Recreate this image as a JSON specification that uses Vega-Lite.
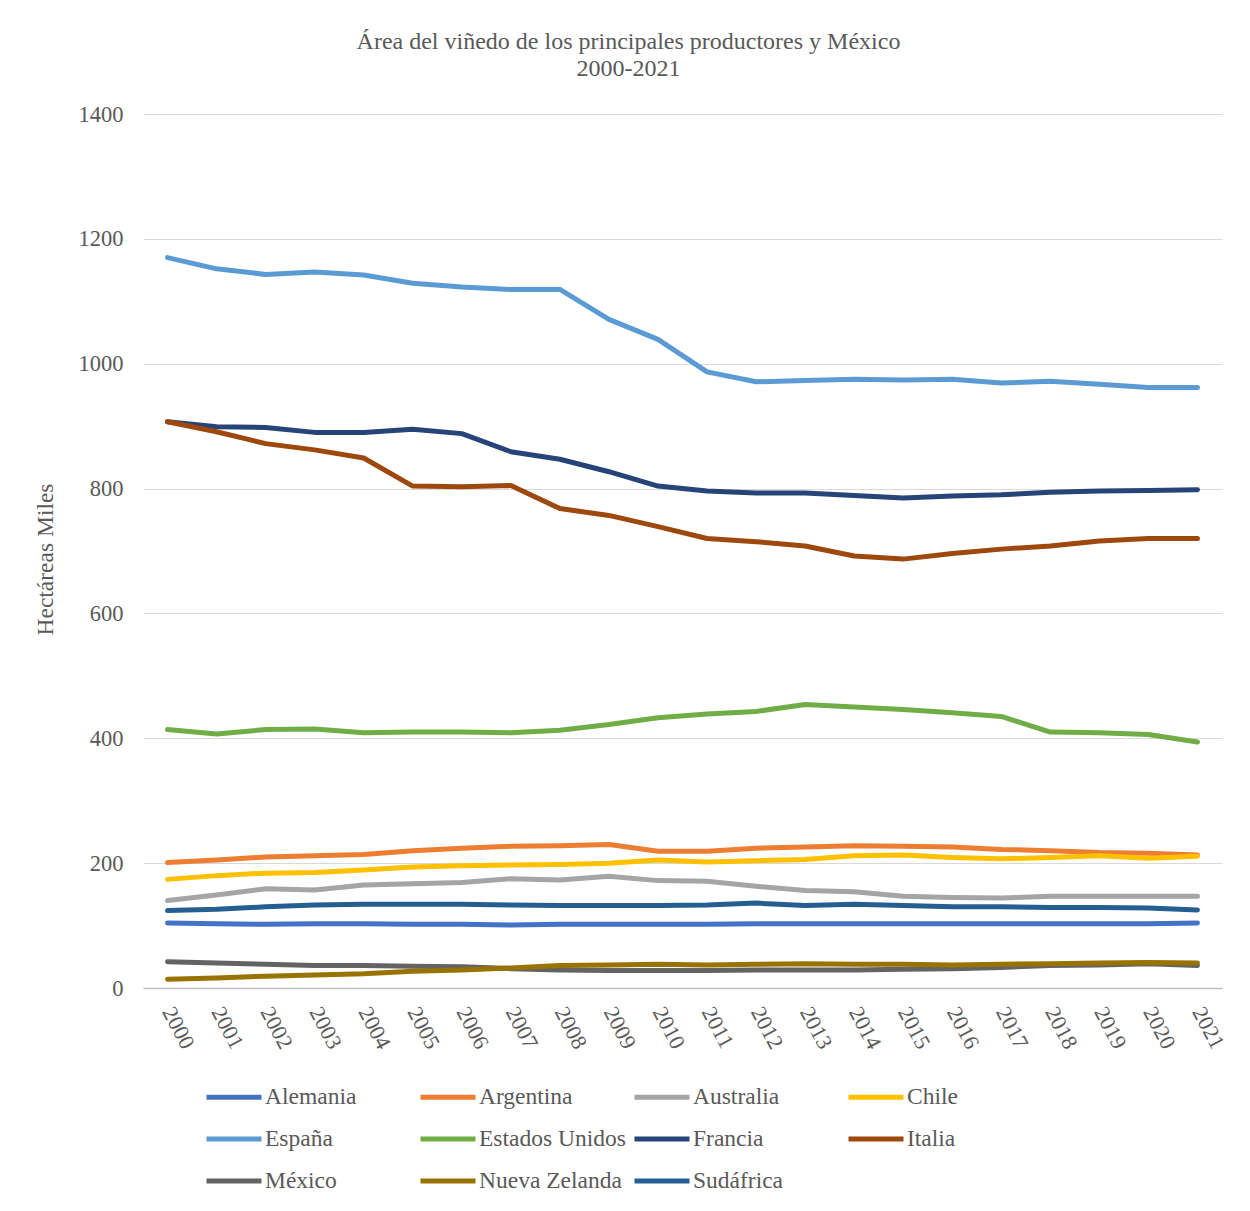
{
  "$schema": "https://vega.github.io/schema/vega-lite/v6.json",
  "width": 1079,
  "height": 874,
  "autosize": {"type": "none"},
  "padding": {"left": 143, "top": 114, "right": 28, "bottom": 223},
  "background": "white",
  "title": {
    "text": ["Área del viñedo de los principales productores y México", "2000-2021"],
    "font": "Liberation Serif",
    "fontSize": 24,
    "fontWeight": "normal",
    "color": "#595959",
    "anchor": "middle",
    "dx": -54,
    "offset": 22,
    "lineHeight": 27
  },
  "data": {
    "values": [
      {"year": "2000", "Alemania": 104, "Argentina": 201, "Australia": 140, "Chile": 174, "España": 1170, "Estados Unidos": 414, "Francia": 907, "Italia": 907, "México": 42, "Nueva Zelanda": 14, "Sudáfrica": 124},
      {"year": "2001", "Alemania": 103, "Argentina": 205, "Australia": 149, "Chile": 180, "España": 1152, "Estados Unidos": 407, "Francia": 899, "Italia": 891, "México": 40, "Nueva Zelanda": 16, "Sudáfrica": 126},
      {"year": "2002", "Alemania": 102, "Argentina": 210, "Australia": 159, "Chile": 184, "España": 1143, "Estados Unidos": 414, "Francia": 898, "Italia": 872, "México": 38, "Nueva Zelanda": 19, "Sudáfrica": 130},
      {"year": "2003", "Alemania": 103, "Argentina": 212, "Australia": 157, "Chile": 185, "España": 1147, "Estados Unidos": 415, "Francia": 890, "Italia": 862, "México": 36, "Nueva Zelanda": 21, "Sudáfrica": 133},
      {"year": "2004", "Alemania": 103, "Argentina": 214, "Australia": 165, "Chile": 189, "España": 1142, "Estados Unidos": 409, "Francia": 890, "Italia": 849, "México": 36, "Nueva Zelanda": 23, "Sudáfrica": 134},
      {"year": "2005", "Alemania": 102, "Argentina": 220, "Australia": 167, "Chile": 194, "España": 1129, "Estados Unidos": 410, "Francia": 895, "Italia": 804, "México": 35, "Nueva Zelanda": 27, "Sudáfrica": 134},
      {"year": "2006", "Alemania": 102, "Argentina": 224, "Australia": 169, "Chile": 196, "España": 1123, "Estados Unidos": 410, "Francia": 888, "Italia": 803, "México": 34, "Nueva Zelanda": 29, "Sudáfrica": 134},
      {"year": "2007", "Alemania": 101, "Argentina": 227, "Australia": 175, "Chile": 197, "España": 1119, "Estados Unidos": 409, "Francia": 859, "Italia": 805, "México": 31, "Nueva Zelanda": 32, "Sudáfrica": 133},
      {"year": "2008", "Alemania": 102, "Argentina": 228, "Australia": 173, "Chile": 198, "España": 1119, "Estados Unidos": 413, "Francia": 847, "Italia": 768, "México": 29, "Nueva Zelanda": 36, "Sudáfrica": 132},
      {"year": "2009", "Alemania": 102, "Argentina": 230, "Australia": 179, "Chile": 200, "España": 1071, "Estados Unidos": 422, "Francia": 827, "Italia": 757, "México": 28, "Nueva Zelanda": 37, "Sudáfrica": 132},
      {"year": "2010", "Alemania": 102, "Argentina": 219, "Australia": 172, "Chile": 205, "España": 1039, "Estados Unidos": 433, "Francia": 804, "Italia": 739, "México": 28, "Nueva Zelanda": 38, "Sudáfrica": 132},
      {"year": "2011", "Alemania": 102, "Argentina": 219, "Australia": 171, "Chile": 202, "España": 987, "Estados Unidos": 439, "Francia": 796, "Italia": 720, "México": 28, "Nueva Zelanda": 37, "Sudáfrica": 133},
      {"year": "2012", "Alemania": 103, "Argentina": 224, "Australia": 163, "Chile": 204, "España": 971, "Estados Unidos": 443, "Francia": 793, "Italia": 715, "México": 29, "Nueva Zelanda": 38, "Sudáfrica": 136},
      {"year": "2013", "Alemania": 103, "Argentina": 226, "Australia": 156, "Chile": 206, "España": 973, "Estados Unidos": 454, "Francia": 793, "Italia": 708, "México": 29, "Nueva Zelanda": 39, "Sudáfrica": 132},
      {"year": "2014", "Alemania": 103, "Argentina": 228, "Australia": 154, "Chile": 212, "España": 975, "Estados Unidos": 450, "Francia": 789, "Italia": 692, "México": 29, "Nueva Zelanda": 38, "Sudáfrica": 134},
      {"year": "2015", "Alemania": 103, "Argentina": 227, "Australia": 147, "Chile": 213, "España": 974, "Estados Unidos": 446, "Francia": 785, "Italia": 687, "México": 30, "Nueva Zelanda": 38, "Sudáfrica": 132},
      {"year": "2016", "Alemania": 103, "Argentina": 226, "Australia": 145, "Chile": 209, "España": 975, "Estados Unidos": 441, "Francia": 788, "Italia": 696, "México": 31, "Nueva Zelanda": 37, "Sudáfrica": 130},
      {"year": "2017", "Alemania": 103, "Argentina": 222, "Australia": 144, "Chile": 207, "España": 969, "Estados Unidos": 435, "Francia": 790, "Italia": 703, "México": 33, "Nueva Zelanda": 38, "Sudáfrica": 130},
      {"year": "2018", "Alemania": 103, "Argentina": 220, "Australia": 147, "Chile": 209, "España": 972, "Estados Unidos": 410, "Francia": 794, "Italia": 708, "México": 36, "Nueva Zelanda": 39, "Sudáfrica": 129},
      {"year": "2019", "Alemania": 103, "Argentina": 217, "Australia": 147, "Chile": 212, "España": 967, "Estados Unidos": 409, "Francia": 796, "Italia": 716, "México": 37, "Nueva Zelanda": 40, "Sudáfrica": 129},
      {"year": "2020", "Alemania": 103, "Argentina": 216, "Australia": 147, "Chile": 208, "España": 962, "Estados Unidos": 406, "Francia": 797, "Italia": 720, "México": 39, "Nueva Zelanda": 41, "Sudáfrica": 128},
      {"year": "2021", "Alemania": 104, "Argentina": 213, "Australia": 147, "Chile": 211, "España": 962, "Estados Unidos": 394, "Francia": 798, "Italia": 720, "México": 36, "Nueva Zelanda": 40, "Sudáfrica": 125}
    ]
  },
  "transform": [
    {
      "fold": ["Alemania", "Argentina", "Australia", "Chile", "España", "Estados Unidos", "Francia", "Italia", "México", "Nueva Zelanda", "Sudáfrica"],
      "as": ["pais", "ha"]
    }
  ],
  "mark": {"type": "line", "strokeWidth": 5, "strokeCap": "round", "strokeJoin": "round"},
  "encoding": {
    "x": {
      "field": "year",
      "type": "ordinal",
      "scale": {"type": "point", "padding": 0.5},
      "axis": {
        "title": null,
        "labelAngle": 62,
        "labelAlign": "left",
        "labelBaseline": "middle",
        "labelFont": "Liberation Serif",
        "labelFontSize": 22,
        "labelColor": "#595959",
        "labelPadding": 20,
        "ticks": false,
        "grid": false,
        "domainColor": "#BFBFBF",
        "domainWidth": 1.5
      }
    },
    "y": {
      "field": "ha",
      "type": "quantitative",
      "scale": {"domain": [0, 1400], "nice": false},
      "axis": {
        "title": "Hectáreas Miles",
        "titleFont": "Liberation Serif",
        "titleFontSize": 23.5,
        "titleFontWeight": "normal",
        "titleColor": "#595959",
        "titlePadding": 21,
        "titleY": 445,
        "values": [0, 200, 400, 600, 800, 1000, 1200, 1400],
        "format": "d",
        "labelFont": "Liberation Serif",
        "labelFontSize": 22.5,
        "labelColor": "#595959",
        "labelPadding": 20,
        "ticks": false,
        "domain": false,
        "gridColor": "#D9D9D9",
        "gridWidth": 1.2
      }
    },
    "color": {
      "field": "pais",
      "type": "nominal",
      "scale": {
        "domain": ["Alemania", "Argentina", "Australia", "Chile", "España", "Estados Unidos", "Francia", "Italia", "México", "Nueva Zelanda", "Sudáfrica"],
        "range": ["#4472C4", "#ED7D31", "#A5A5A5", "#FFC000", "#5B9BD5", "#70AD47", "#264478", "#9E480E", "#636363", "#997300", "#255E91"]
      },
      "legend": {
        "title": null,
        "orient": "none",
        "legendX": 61,
        "legendY": 953,
        "direction": "horizontal",
        "columns": 4,
        "gridAlign": "all",
        "columnPadding": -2,
        "rowPadding": 0,
        "padding": 0,
        "symbolType": "stroke",
        "symbolSize": 3025,
        "symbolStrokeWidth": 5,
        "labelFont": "Liberation Serif",
        "labelFontSize": 23.5,
        "labelColor": "#595959",
        "labelOffset": 1
      }
    }
  },
  "config": {"view": {"stroke": null}}
}
